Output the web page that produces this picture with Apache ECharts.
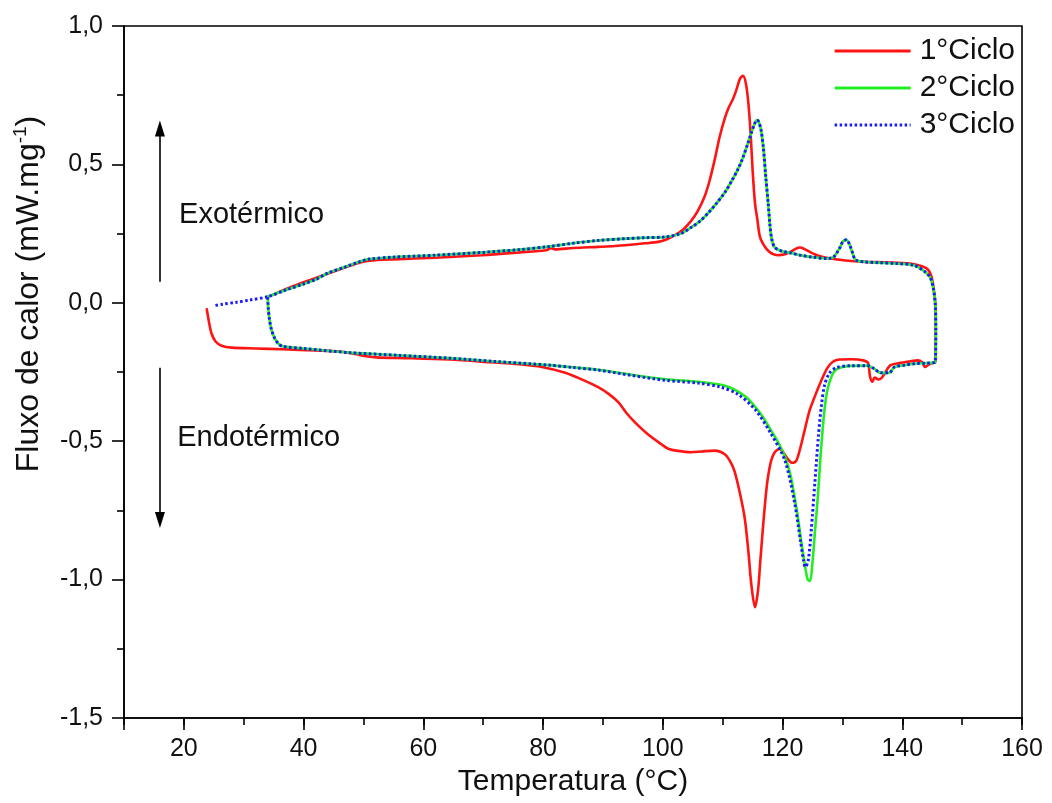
<!DOCTYPE html>
<html><head><meta charset="utf-8">
<script src="https://cdn.jsdelivr.net/npm/echarts@6/dist/echarts.min.js"></script>
<style>html,body{margin:0;padding:0;background:#fff}#c{width:1052px;height:803px}</style>
</head><body><div id="c"></div>
<script>
const seriesNames = ['1°Ciclo', '2°Ciclo', '3°Ciclo'];
const xTickValues = [20, 40, 60, 80, 100, 120, 140, 160];
const yTickValues = [-1.5, -1.0, -0.5, 0.0, 0.5, 1.0];

// 1° ciclo: aquecimento (curva inferior) e resfriamento (curva superior)
const ciclo1Aquec = [[23.8,-0.02],[24.2,-0.07],[24.6,-0.11],[25.3,-0.14],[26.3,-0.155],[28,-0.162],[32,-0.165],[36.5,-0.168],[42,-0.172],[46,-0.176],[48.8,-0.186],[50.5,-0.193],[52.1,-0.197],[58,-0.2],[64.3,-0.205],[71.4,-0.215],[76,-0.222],[79.8,-0.232],[83.7,-0.253],[87.1,-0.283],[89.2,-0.305],[91,-0.33],[92.6,-0.36],[94,-0.4],[95.4,-0.433],[97.5,-0.475],[99.7,-0.51],[100.9,-0.527],[102.5,-0.535],[104.7,-0.54],[106.5,-0.537],[108.7,-0.534],[110.4,-0.548],[111.3,-0.575],[112,-0.61],[112.9,-0.69],[113.7,-0.78],[114.3,-0.9],[114.8,-1.02],[115.4,-1.1],[115.9,-1.04],[116.3,-0.93],[116.7,-0.82],[117.1,-0.72],[117.5,-0.64],[118.1,-0.57],[118.7,-0.54],[119.5,-0.528],[120.1,-0.54],[120.8,-0.562],[121.6,-0.578],[122.3,-0.57],[122.9,-0.53],[123.7,-0.46],[124.5,-0.39],[125.4,-0.338],[126.5,-0.28],[127.5,-0.235],[128.4,-0.213],[129.5,-0.205],[131.5,-0.204],[133.5,-0.208],[134.3,-0.218],[134.6,-0.265],[135,-0.285],[135.4,-0.27],[136,-0.277],[136.6,-0.27],[137.2,-0.25],[138,-0.226],[139.5,-0.218],[141.2,-0.212],[142.6,-0.208],[143.3,-0.215],[143.8,-0.232],[144.3,-0.225],[145,-0.218],[145.5,-0.215]];
const ciclo1Resfr = [[145.6,-0.1],[145.5,0.0],[145.2,0.06],[144.8,0.1],[144.2,0.122],[143.3,0.132],[141.3,0.142],[137,0.146],[133.7,0.148],[130.5,0.153],[128,0.16],[126,0.17],[124.7,0.182],[123.6,0.195],[122.9,0.2],[122.2,0.195],[121.4,0.185],[120.4,0.175],[119.2,0.172],[118.2,0.178],[117.5,0.19],[116.7,0.215],[116.2,0.24],[115.8,0.3],[115.4,0.36],[115.0,0.48],[114.7,0.6],[114.3,0.72],[113.9,0.79],[113.4,0.82],[112.9,0.81],[112.3,0.77],[111.7,0.735],[111,0.705],[110.4,0.67],[109.5,0.6],[108.7,0.52],[107.8,0.44],[107,0.385],[105.8,0.33],[104.7,0.295],[103.4,0.265],[102.1,0.245],[100.5,0.228],[99.2,0.22],[97,0.215],[94.7,0.21],[92,0.205],[89.2,0.202],[85,0.198],[82,0.193],[81.3,0.197],[80.5,0.19],[76,0.182],[69.8,0.172],[62,0.163],[55,0.157],[51,0.152],[49.3,0.145],[47,0.128],[44,0.105],[41,0.082],[38,0.058],[35.5,0.035],[34,0.022]];

// 2° ciclo
const ciclo2Aquec = [[34,0.02],[34.1,-0.02],[34.3,-0.06],[34.6,-0.095],[35.1,-0.125],[35.8,-0.148],[36.5,-0.157],[40,-0.165],[47.6,-0.18],[56,-0.19],[64.3,-0.2],[72,-0.212],[80.9,-0.225],[85,-0.233],[89.2,-0.242],[94.7,-0.26],[100.4,-0.276],[105.9,-0.285],[109.7,-0.296],[111.2,-0.306],[112.5,-0.32],[114,-0.342],[115.4,-0.375],[116.8,-0.415],[118,-0.458],[119.3,-0.505],[120.4,-0.556],[121.3,-0.62],[122,-0.7],[122.6,-0.78],[123,-0.845],[123.6,-0.93],[124.2,-1.0],[124.6,-1.005],[125,-0.94],[125.4,-0.83],[125.9,-0.7],[126.3,-0.57],[126.7,-0.458],[127.1,-0.37],[127.5,-0.314],[128.2,-0.265],[128.9,-0.242],[130,-0.232],[131.4,-0.228],[134.2,-0.227],[135.3,-0.238],[136.4,-0.253],[137.8,-0.253],[138.7,-0.232],[140.5,-0.225],[142,-0.22],[144,-0.218],[145,-0.217],[145.5,-0.215]];
const ciclo2Resfr = [[145.6,-0.1],[145.5,0.0],[145.2,0.05],[144.7,0.09],[143.8,0.112],[142,0.135],[139,0.142],[136,0.145],[133.7,0.148],[132.2,0.155],[131.7,0.18],[131.2,0.21],[130.7,0.228],[130.1,0.222],[129.6,0.2],[129.2,0.185],[128.5,0.165],[127.5,0.16],[125,0.165],[123,0.172],[121.4,0.18],[119.8,0.187],[118.7,0.2],[118.2,0.23],[117.9,0.28],[117.6,0.36],[117.2,0.455],[116.8,0.56],[116.4,0.625],[116.0,0.655],[115.7,0.66],[115.4,0.65],[114.8,0.615],[114.2,0.575],[113.3,0.52],[112.5,0.48],[111.5,0.44],[110.4,0.4],[109,0.36],[107.6,0.325],[106.2,0.295],[104.7,0.272],[103,0.25],[100.4,0.238],[97,0.235],[94,0.232],[89.2,0.225],[85,0.215],[80.9,0.203],[76,0.192],[69.8,0.182],[62,0.172],[55,0.165],[51,0.158],[49.3,0.148],[47,0.13],[44,0.107],[42.1,0.085],[40,0.068],[37,0.046],[34,0.022]];

// 3° ciclo
const ciclo3Aquec = [[34,0.02],[34.1,-0.02],[34.3,-0.06],[34.6,-0.095],[35.1,-0.125],[35.8,-0.148],[36.5,-0.157],[40,-0.165],[47.6,-0.18],[56,-0.19],[64.3,-0.2],[72,-0.212],[80.9,-0.225],[85,-0.234],[89.2,-0.243],[94.7,-0.262],[100.4,-0.28],[105.9,-0.29],[109.7,-0.305],[112.5,-0.33],[115.4,-0.385],[118,-0.47],[120.4,-0.57],[122,-0.72],[123,-0.86],[123.5,-0.93],[123.8,-0.955],[124.3,-0.93],[124.8,-0.82],[125.4,-0.65],[126,-0.48],[126.5,-0.37],[127,-0.3],[127.8,-0.255],[128.9,-0.235],[131.4,-0.227],[134.2,-0.227],[135.3,-0.238],[136.4,-0.253],[137.8,-0.253],[138.7,-0.232],[140.5,-0.225],[142,-0.22],[144,-0.218],[145,-0.217],[145.5,-0.215]];
const ciclo3Resfr = [[145.6,-0.1],[145.5,0.0],[145.2,0.05],[144.7,0.09],[143.8,0.112],[142,0.135],[139,0.142],[136,0.145],[133.7,0.148],[132.2,0.155],[131.7,0.18],[131.2,0.21],[130.7,0.228],[130.1,0.222],[129.6,0.2],[129.2,0.185],[128.5,0.165],[127.5,0.16],[125,0.165],[123,0.172],[121.4,0.18],[119.8,0.187],[118.7,0.2],[118.2,0.23],[117.9,0.28],[117.6,0.36],[117.2,0.455],[116.8,0.56],[116.4,0.625],[116.0,0.655],[115.7,0.66],[115.4,0.65],[114.8,0.615],[114.2,0.575],[113.3,0.52],[112.5,0.48],[111.5,0.44],[110.4,0.4],[109,0.36],[107.6,0.325],[106.2,0.295],[104.7,0.272],[103,0.25],[100.4,0.238],[97,0.235],[94,0.232],[89.2,0.225],[85,0.215],[80.9,0.203],[76,0.192],[69.8,0.182],[62,0.172],[55,0.165],[51,0.158],[49.3,0.148],[47,0.13],[44,0.107],[42.1,0.085],[40,0.068],[37,0.046],[34,0.022],[31,0.01],[28.8,0.002],[26.5,-0.005],[25.1,-0.01]];

// anotações (coordenadas de dados)
const arrowUp = [[16, 0.076], [16, 0.63]];
const arrowDown = [[16, -0.235], [16, -0.785]];
const labelExo = {text: 'Exotérmico', at: [19.2, 0.318]};
const labelEndo = {text: 'Endotérmico', at: [18.9, -0.487]};

const FONT = '"Liberation Sans", Arial, sans-serif';
const chart = echarts.init(document.getElementById('c'), null, {renderer: 'canvas'});
const fmtY = v => v.toFixed(1).replace('.', ',');

const arrowMarkLine = {
  silent: true,
  symbol: ['none', 'triangle'],
  symbolSize: [10, 16],
  label: {show: false},
  lineStyle: {color: '#000', width: 1.6, type: 'solid'},
  itemStyle: {color: '#000'},
  data: [
    [{coord: arrowUp[0]}, {coord: arrowUp[1]}],
    [{coord: arrowDown[0]}, {coord: arrowDown[1]}]
  ]
};

const option = {
  animation: false,
  backgroundColor: '#fff',
  grid: {left: 124, right: 30, top: 26, bottom: 85, show: true, borderColor: '#000', borderWidth: 1.6, backgroundColor: 'transparent'},
  legend: {
    orient: 'vertical', right: 32, top: 31, itemWidth: 76, itemHeight: 14, itemGap: 7,
    itemStyle: {color: 'transparent', borderColor: 'transparent', borderWidth: 0, opacity: 0},
    lineStyle: {width: 3},
    textStyle: {fontFamily: FONT, fontSize: 30, color: '#111', padding: [0, 0, 0, 4]},
    data: seriesNames
  },
  xAxis: [
    {
      type: 'value', min: 10, max: 160, interval: 10,
      axisLine: {onZero: false, lineStyle: {color: '#000', width: 1.6}},
      axisTick: {length: 7, lineStyle: {color: '#000', width: 1.6}},
      splitLine: {show: false},
      axisLabel: {
        margin: 19, fontFamily: FONT, fontSize: 25, color: '#111',
        formatter: v => (xTickValues.indexOf(v) >= 0 ? String(v) : '')
      },
      name: 'Temperatura (°C)', nameLocation: 'middle', nameGap: 48,
      nameTextStyle: {fontFamily: FONT, fontSize: 30, color: '#111'}
    },
    {
      type: 'value', min: 0, max: 150, interval: 20, inverse: true, position: 'bottom',
      axisLine: {show: false, onZero: false},
      axisTick: {length: 12, lineStyle: {color: '#000', width: 1.6}},
      axisLabel: {show: false}, splitLine: {show: false}
    }
  ],
  yAxis: {
    type: 'value', min: -1.5, max: 1.0, interval: 0.5, position: 'left',
    axisLine: {show: true, onZero: false, lineStyle: {color: '#000', width: 1.6}},
    axisTick: {show: true, length: 12, lineStyle: {color: '#000', width: 1.6}},
    minorTick: {show: true, splitNumber: 2, length: 7, lineStyle: {color: '#000', width: 1.6}},
    splitLine: {show: false},
    axisLabel: {margin: 21, fontFamily: FONT, fontSize: 25, color: '#111', formatter: fmtY},
    name: 'Fluxo de calor (mW.mg{sup|-1})', nameLocation: 'middle', nameGap: 76,
    nameTextStyle: {
      fontFamily: FONT, fontSize: 32, color: '#111', padding: [0, 0, 0, 156],
      rich: {sup: {fontFamily: FONT, fontSize: 19, color: '#111', padding: [0, 0, 18, 0]}}
    }
  },
  series: [
    {
      name: seriesNames[0], type: 'line', xAxisIndex: 0, symbol: 'none', smooth: 0.3,
      data: ciclo1Aquec.concat(ciclo1Resfr), z: 3,
      lineStyle: {color: '#ff1414', width: 2.6}, itemStyle: {color: '#ff1414'},
      markLine: arrowMarkLine
    },
    {
      name: seriesNames[1], type: 'line', xAxisIndex: 0, symbol: 'none', smooth: 0.3,
      data: ciclo2Aquec.concat(ciclo2Resfr), z: 4,
      lineStyle: {color: '#22ee22', width: 2.6}, itemStyle: {color: '#22ee22'}
    },
    {
      name: seriesNames[2], type: 'line', xAxisIndex: 0, symbol: 'none', smooth: 0.3,
      data: ciclo3Aquec.concat(ciclo3Resfr), z: 5,
      lineStyle: {color: '#1a1aff', width: 3, type: [2.5, 2.5]}, itemStyle: {color: '#1a1aff'}
    }
  ]
};
chart.setOption(option);

function placeLabels() {
  const els = [labelExo, labelEndo].map(l => {
    const p = chart.convertToPixel({xAxisIndex: 0, yAxisIndex: 0}, l.at);
    return {
      type: 'text', x: p[0], y: p[1],
      style: {text: l.text, fontFamily: FONT, fontSize: 29, fill: '#111', textAlign: 'left', textVerticalAlign: 'middle'}
    };
  });
  chart.setOption({graphic: els});
}
placeLabels();
</script>
</body></html>
